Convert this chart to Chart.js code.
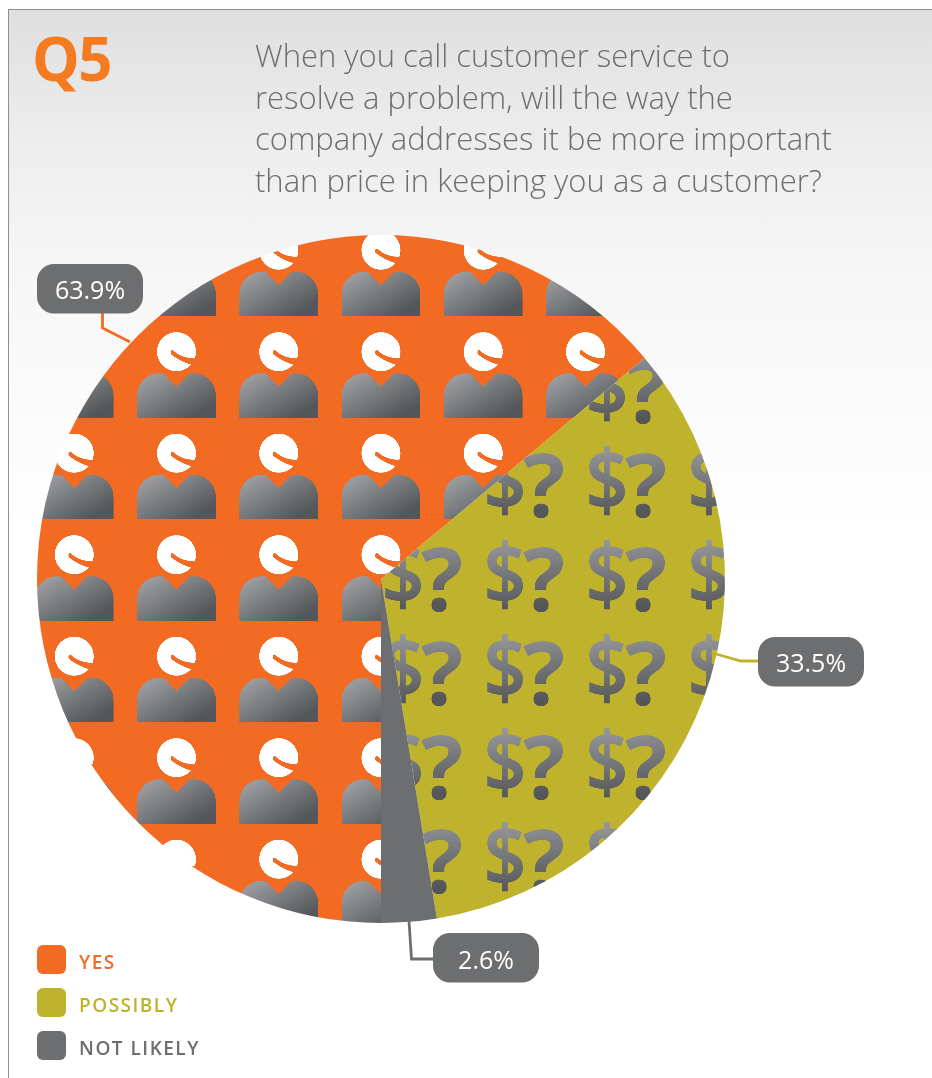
<!DOCTYPE html>
<html lang="en">
<head>
<meta charset="utf-8">
<title>Q5</title>
<script src="https://cdn.jsdelivr.net/npm/chart.js@4"></script>
<style>
  html, body { margin: 0; padding: 0; background: #fff; }
  body { width: 932px; height: 1078px; position: relative; overflow: hidden; font-family: "Open Sans", sans-serif; }
  #panel {
    position: absolute; left: 8px; top: 9px; right: -2px; bottom: -2px;
    border: 1px solid #8f8f8f;
    background: linear-gradient(#dfdfdf 0, #ececec 120px, #f6f6f6 260px, #fff 520px);
  }
  #grafico { position: absolute; left: 0; top: 0; }
  #numero {
    position: absolute; left: 32px; top: 18px; font-size: 60px; line-height: 80px;
    font-weight: 700; color: #f47b20; letter-spacing: -1.5px;
  }
  #pregunta {
    position: absolute; left: 255px; top: 35px; margin: 0; font-size: 31px; line-height: 41.7px;
    font-weight: 300; color: #6d6e70; white-space: nowrap;
  }
  #leyenda { position: absolute; left: 37px; top: 945px; }
  .fila { position: absolute; left: 0; width: 300px; height: 29px; }
  .fila i { position: absolute; left: 0; top: 0; width: 29px; height: 29px; border-radius: 6px; }
  .fila span {
    position: absolute; left: 42px; top: 0; font-size: 19px; line-height: 34px;
    font-weight: 600; letter-spacing: 1.5px; white-space: nowrap;
  }
</style>
</head>
<body>
<div id="panel"></div>
<canvas id="grafico" width="932" height="1078"></canvas>
<div id="numero">Q5</div>
<p id="pregunta"></p>
<div id="leyenda"></div>
<script>
const pregunta = [
  'When you call customer service to',
  'resolve a problem, will the way the',
  'company addresses it be more important',
  'than price in keeping you as a customer?'
];
const categorias = ['YES', 'POSSIBLY', 'NOT LIKELY'];
const porcentajes = [63.9, 33.5, 2.6];

const NARANJA = '#f36a22';
const OLIVA = '#bfb22d';
const GRIS = '#6d6e70';

document.getElementById('pregunta').innerHTML = pregunta.join('<br>');

// Degradado comun de las figuras del relleno
function degradado(c, x0, y0, x1, y1) {
  const g = c.createLinearGradient(x0, y0, x1, y1);
  g.addColorStop(0, '#9a9b9e');
  g.addColorStop(1, '#555658');
  return g;
}

// Baldosa de personas para el sector naranja (dibujada a 4x)
function patronPersonas(ctx) {
  const tile = document.createElement('canvas');
  tile.width = 409;
  tile.height = 406;
  const c = tile.getContext('2d');
  c.scale(4, 4);
  c.fillStyle = NARANJA;
  c.fillRect(0, 0, 103, 102);

  const cx = 51.1, cy = 28;
  const arriba = cy + 21.6, abajo = cy + 66;

  // cabeza
  c.fillStyle = '#fff';
  c.beginPath();
  c.arc(cx, cy, 19.5, 0, Math.PI * 2);
  c.fill();

  // corte curvo de la cabeza
  c.fillStyle = NARANJA;
  c.beginPath();
  c.moveTo(cx - 3.5, cy - 1.5);
  c.quadraticCurveTo(cx + 5, cy + 7, cx + 20.5, cy + 6.7);
  c.lineTo(cx + 20.5, cy + 9);
  c.lineTo(cx + 15, cy + 13);
  c.quadraticCurveTo(cx + 4, cy + 10, cx - 5.5, cy + 2.5);
  c.quadraticCurveTo(cx - 6.5, cy - 2, cx - 3.5, cy - 1.5);
  c.fill();

  // cuerpo con el cuello en V
  c.fillStyle = degradado(c, cx - 16, arriba - 2, cx + 12, abajo + 2);
  c.beginPath();
  c.moveTo(cx - 39.3, abajo);
  c.lineTo(cx - 39.3, arriba + 22);
  c.arcTo(cx - 39.3, arriba, cx - 17, arriba, 22);
  c.lineTo(cx - 13.3, arriba);
  c.lineTo(cx, arriba + 13.3);
  c.lineTo(cx + 13.3, arriba);
  c.lineTo(cx + 17, arriba);
  c.arcTo(cx + 39.3, arriba, cx + 39.3, arriba + 22, 22);
  c.lineTo(cx + 39.3, abajo);
  c.closePath();
  c.fill();

  const p = ctx.createPattern(tile, 'repeat');
  p.setTransform(new DOMMatrix([0.25, 0, 0, 0.25, 23.1, 19.2]));
  return p;
}

// Baldosa de "$?" para el sector oliva
function patronPrecio(ctx) {
  const tile = document.createElement('canvas');
  tile.width = 408;
  tile.height = 376;
  const c = tile.getContext('2d');
  c.scale(4, 4);
  c.fillStyle = OLIVA;
  c.fillRect(0, 0, 102, 94);

  const tono = degradado(c, 0, 10, 6, 84);
  c.textAlign = 'center';
  c.textBaseline = 'alphabetic';
  c.fillStyle = tono;
  c.strokeStyle = tono;
  c.lineWidth = 1;
  c.font = '600 84px "Open Sans"';
  c.save();
  c.translate(32, 0);
  c.scale(0.88, 1);
  c.fillText('$', 0, 77);
  c.strokeText('$', 0, 77);
  c.restore();
  c.font = '700 88px "Open Sans"';
  c.fillText('?', 71, 84);

  const p = ctx.createPattern(tile, 'repeat');
  p.setTransform(new DOMMatrix([0.25, 0, 0, 0.25, 65, 57]));
  return p;
}

// Etiquetas con su linea guia, en el orden de categorias
const llamadas = [
  { caja: [37, 264], guia: [[130, 342], [102.5, 328], [102.5, 313]], color: NARANJA, base: 299 },
  { caja: [758, 637], guia: [[716, 654], [741, 661], [758, 661]], color: OLIVA, base: 672 },
  { caja: [433, 933], guia: [[409, 921], [411.5, 959], [433, 959]], color: GRIS, base: 969 }
];

const pluginLlamadas = {
  id: 'llamadas',
  afterDatasetsDraw(chart) {
    const c = chart.ctx;
    c.save();
    llamadas.forEach((l, i) => {
      c.strokeStyle = l.color;
      c.lineWidth = 2.8;
      c.lineJoin = 'miter';
      c.beginPath();
      l.guia.forEach(([x, y], j) => (j ? c.lineTo(x, y) : c.moveTo(x, y)));
      c.stroke();

      c.fillStyle = GRIS;
      c.beginPath();
      c.roundRect(l.caja[0], l.caja[1], 106, 49.5, 17);
      c.fill();

      c.fillStyle = '#fff';
      c.font = '400 25px "Open Sans"';
      c.textAlign = 'center';
      c.textBaseline = 'alphabetic';
      c.fillText(porcentajes[i].toFixed(1) + '%', l.caja[0] + 53, l.base);
    });
    c.restore();
  }
};

function crearGrafico() {
  const ctx = document.getElementById('grafico').getContext('2d');
  new Chart(ctx, {
    type: 'pie',
    data: {
      labels: categorias,
      datasets: [{
        data: porcentajes,
        backgroundColor: [patronPersonas(ctx), patronPrecio(ctx), GRIS],
        borderWidth: 0
      }]
    },
    options: {
      responsive: false,
      animation: false,
      rotation: 180,
      layout: { padding: { left: 37, right: 207, top: 235, bottom: 155 } },
      plugins: { legend: { display: false }, tooltip: { enabled: false } }
    },
    plugins: [pluginLlamadas]
  });
}

function crearLeyenda() {
  const colores = [NARANJA, OLIVA, GRIS];
  const tops = [0, 43, 86];
  const cont = document.getElementById('leyenda');
  categorias.forEach((nombre, i) => {
    const fila = document.createElement('div');
    fila.className = 'fila';
    fila.style.top = tops[i] + 'px';
    fila.innerHTML = '<i style="background:' + colores[i] + '"></i><span style="color:' + colores[i] + '">' + nombre + '</span>';
    cont.appendChild(fila);
  });
}

// Las fuentes tienen que estar listas antes de pintar las baldosas
Promise.all([
  document.fonts.load('600 84px "Open Sans"'),
  document.fonts.load('700 88px "Open Sans"'),
  document.fonts.load('400 25px "Open Sans"')
]).finally(() => {
  crearGrafico();
  crearLeyenda();
});
</script>
</body>
</html>
